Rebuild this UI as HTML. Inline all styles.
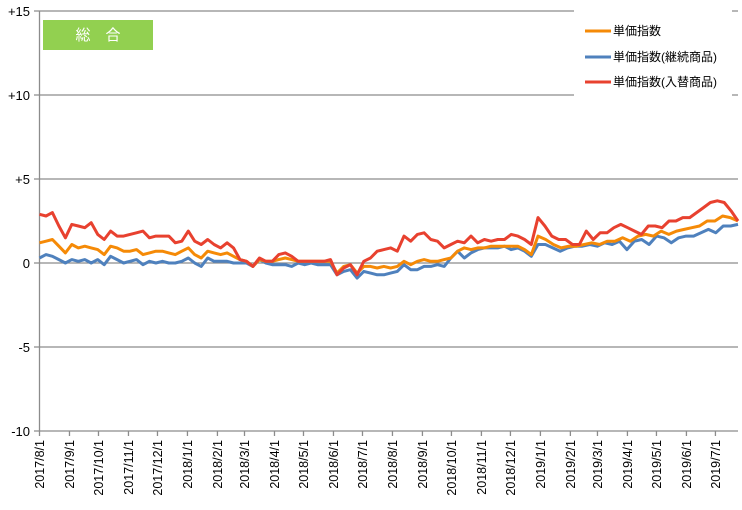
<!DOCTYPE html>
<html><head><meta charset="utf-8"><style>
html,body{margin:0;padding:0;background:#fff;}
svg{display:block;font-family:"Liberation Sans","Noto Sans CJK JP",sans-serif;}
</style></head><body>
<svg id="c" width="742" height="510" xmlns="http://www.w3.org/2000/svg">
<g stroke="#8c8c8c" stroke-width="1.3">
<line x1="34" y1="11" x2="738" y2="11"/>
<line x1="34" y1="95" x2="738" y2="95"/>
<line x1="34" y1="179" x2="738" y2="179"/>
<line x1="34" y1="263" x2="738" y2="263"/>
<line x1="34" y1="347" x2="738" y2="347"/>
<line x1="34" y1="431" x2="738" y2="431"/>
<line x1="39.5" y1="11" x2="39.5" y2="431"/>
</g>
<g font-size="13" text-anchor="end" fill="#000">
<text x="30" y="16">+15</text>
<text x="30" y="100">+10</text>
<text x="30" y="184">+5</text>
<text x="30" y="268">0</text>
<text x="30" y="352">-5</text>
<text x="30" y="436">-10</text>
</g>
<g id="xl"></g>
<rect x="43" y="20" width="110" height="30" fill="#92d050"/>
<text x="98" y="40" font-size="15" fill="#fff" text-anchor="middle">総　合</text>
<g id="series"></g>
<rect x="574" y="5" width="158" height="92" fill="#fff"/>
<g font-size="12" fill="#000">
<line x1="585" y1="31" x2="611" y2="31" stroke="#f58a07" stroke-width="3"/>
<text x="613" y="35">単価指数</text>
<line x1="585" y1="57" x2="611" y2="57" stroke="#4f81bd" stroke-width="3"/>
<text x="613" y="61">単価指数(継続商品)</text>
<line x1="585" y1="82" x2="611" y2="82" stroke="#e8412f" stroke-width="3"/>
<text x="613" y="86">単価指数(入替商品)</text>
</g>
</svg>
<script>
var ns="http://www.w3.org/2000/svg";
var months=["2017/8/1","2017/9/1","2017/10/1","2017/11/1","2017/12/1","2018/1/1","2018/2/1","2018/3/1","2018/4/1","2018/5/1","2018/6/1","2018/7/1","2018/8/1","2018/9/1","2018/10/1","2018/11/1","2018/12/1","2019/1/1","2019/2/1","2019/3/1","2019/4/1","2019/5/1","2019/6/1","2019/7/1"];
var t0=Date.UTC(2017,7,1);var xl=document.getElementById("xl");
months.forEach(function(m){var p=m.split("/");var d=(Date.UTC(+p[0],+p[1]-1,1)-t0)/864e5;var x=39.5+d*0.967;
var l=document.createElementNS(ns,"line");l.setAttribute("x1",x);l.setAttribute("x2",x);l.setAttribute("y1",431);l.setAttribute("y2",436);l.setAttribute("stroke","#8c8c8c");l.setAttribute("stroke-width","1.3");xl.appendChild(l);
var t=document.createElementNS(ns,"text");t.setAttribute("transform","translate("+(x+4.5)+",440) rotate(-90)");t.setAttribute("text-anchor","end");t.setAttribute("font-size","12.5");t.textContent=m;xl.appendChild(t);});
var red=[2.9,2.8,3.0,2.2,1.5,2.3,2.2,2.1,2.4,1.7,1.4,1.9,1.6,1.6,1.7,1.8,1.9,1.5,1.6,1.6,1.6,1.2,1.3,1.9,1.3,1.1,1.4,1.1,0.9,1.2,0.9,0.2,0.1,-0.2,0.3,0.1,0.1,0.5,0.6,0.4,0.1,0.1,0.1,0.1,0.1,0.2,-0.7,-0.3,-0.1,-0.7,0.1,0.3,0.7,0.8,0.9,0.7,1.6,1.3,1.7,1.8,1.4,1.3,0.9,1.1,1.3,1.2,1.6,1.2,1.4,1.3,1.4,1.4,1.7,1.6,1.4,1.1,2.7,2.2,1.6,1.4,1.4,1.1,1.1,1.9,1.4,1.8,1.8,2.1,2.3,2.1,1.9,1.7,2.2,2.2,2.1,2.5,2.5,2.7,2.7,3.0,3.3,3.6,3.7,3.6,3.1,2.5];
var org=[1.2,1.3,1.4,1.0,0.6,1.1,0.9,1.0,0.9,0.8,0.5,1.0,0.9,0.7,0.7,0.8,0.5,0.6,0.7,0.7,0.6,0.5,0.7,0.9,0.5,0.3,0.7,0.6,0.5,0.6,0.4,0.2,0.1,-0.2,0.2,0.1,0.1,0.2,0.3,0.2,0.1,0.1,0.1,0.1,0.1,0.1,-0.6,-0.2,-0.1,-0.6,-0.2,-0.2,-0.3,-0.2,-0.3,-0.2,0.1,-0.1,0.1,0.2,0.1,0.1,0.2,0.3,0.7,0.9,0.8,0.9,0.9,1.0,1.0,1.0,1.0,1.0,0.8,0.5,1.6,1.4,1.1,0.9,1.0,1.0,1.1,1.2,1.1,1.3,1.3,1.5,1.3,1.6,1.7,1.6,1.9,1.7,1.9,2.0,2.1,2.2,2.5,2.5,2.8,2.7,2.5];
var blu=[0.3,0.5,0.4,0.2,0.0,0.2,0.1,0.2,0.0,0.2,-0.1,0.4,0.2,0.0,0.1,0.2,-0.1,0.1,0.0,0.1,0.0,0.0,0.1,0.3,0.0,-0.2,0.3,0.1,0.1,0.1,0.0,0.0,0.0,-0.2,0.2,0.0,-0.1,-0.1,-0.1,-0.2,0.0,-0.1,0.0,-0.1,-0.1,-0.1,-0.7,-0.5,-0.4,-0.9,-0.5,-0.6,-0.7,-0.7,-0.6,-0.5,-0.1,-0.4,-0.4,-0.2,-0.2,-0.1,-0.2,0.3,0.7,0.3,0.6,0.8,0.9,0.9,0.9,1.0,0.8,0.9,0.7,0.4,1.1,1.1,0.9,0.7,0.9,1.0,1.0,1.1,1.0,1.2,1.1,1.3,0.8,1.3,1.4,1.1,1.6,1.5,1.2,1.5,1.6,1.6,1.8,2.0,1.8,2.2,2.2,2.3];
function xmap(i,n){var A=[[0,39.5],[46,337],[76,538],[n-1,738]];for(var k=0;k<3;k++){if(i<=A[k+1][0]){var f=(i-A[k][0])/(A[k+1][0]-A[k][0]);return A[k][1]+f*(A[k+1][1]-A[k][1]);}}return 738;}
var g=document.getElementById("series");
[[blu,"#4f81bd"],[org,"#f58a07"],[red,"#e8412f"]].forEach(function(s){var a=s[0],n=a.length,pts=[];
for(var i=0;i<n;i++){pts.push(xmap(i,n).toFixed(1)+","+(263-a[i]*16.8).toFixed(1));}
var p=document.createElementNS(ns,"polyline");p.setAttribute("points",pts.join(" "));p.setAttribute("fill","none");p.setAttribute("stroke",s[1]);p.setAttribute("stroke-width","3");p.setAttribute("stroke-linejoin","round");g.appendChild(p);});
</script>
</body></html>
